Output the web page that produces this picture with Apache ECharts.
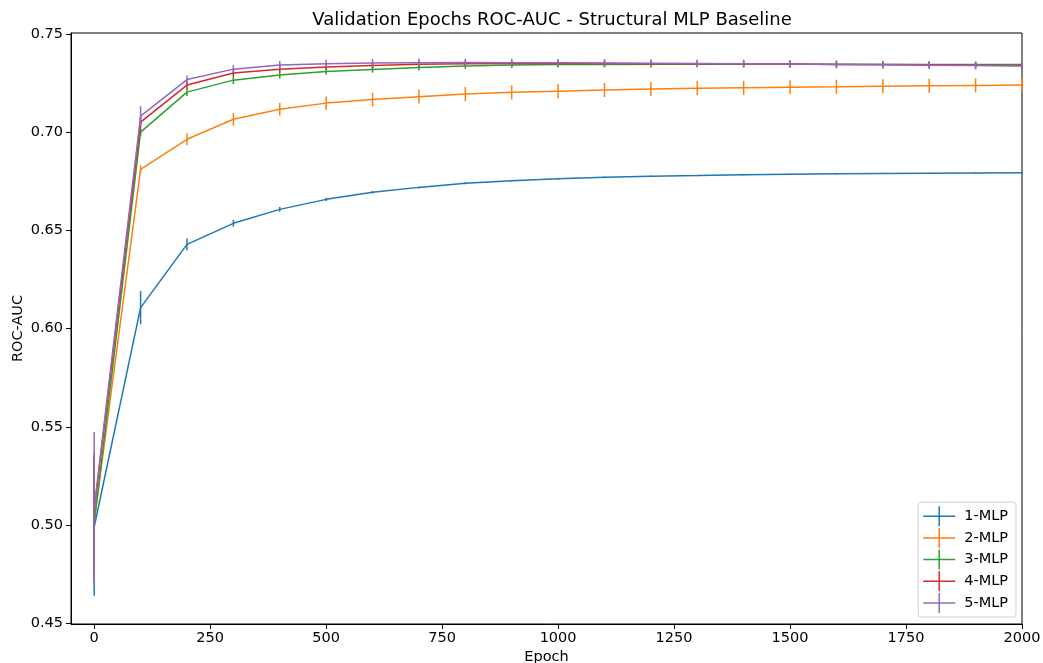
<!DOCTYPE html>
<html>
<head>
<meta charset="utf-8">
<script src="https://cdn.jsdelivr.net/npm/echarts@6/dist/echarts.min.js"></script>
<style>html,body{margin:0;padding:0;background:#fff}#c{width:1043px;height:663px}</style>
</head>
<body>
<div id="c"></div>
<script>
const epochs = [0,100,200,300,400,500,600,700,800,900,1000,1100,1200,1300,1400,1500,1600,1700,1800,1900,2000];
const seriesNames = ['1-MLP','2-MLP','3-MLP','4-MLP','5-MLP'];
const colors = ['#1f77b4','#ff7f0e','#2ca02c','#d62728','#9467bd'];

const mlp1 = [0.499,0.6107,0.6429,0.6536,0.6607,0.6658,0.6694,0.6719,0.6740,0.6753,0.6763,0.6770,0.6776,0.6779,0.6783,0.6786,0.6788,0.6790,0.6791,0.6792,0.6793];
const mlp1Err = [0.035,0.0085,0.003,0.0017,0.0012,0.0008,0.0006,0.0005,0.0005,0.0004,0.0004,0.0004,0.0003,0.0003,0.0003,0.0003,0.0003,0.0003,0.0003,0.0003,0.0003];
const mlp2 = [0.502,0.6811,0.6964,0.7066,0.7117,0.7148,0.7166,0.7181,0.7194,0.7203,0.7209,0.7215,0.7220,0.7224,0.7226,0.7229,0.7231,0.7234,0.7236,0.7238,0.7240];
const mlp2Err = [0.030,0.002,0.003,0.0032,0.0032,0.0034,0.0035,0.0035,0.0036,0.0036,0.0036,0.0036,0.0036,0.0036,0.0036,0.0036,0.0036,0.0036,0.0036,0.0036,0.0036];
const mlp3 = [0.501,0.7000,0.7204,0.7265,0.7291,0.7309,0.7319,0.7329,0.7337,0.7342,0.7344,0.7345,0.7346,0.7346,0.7346,0.7346,0.7346,0.7345,0.7345,0.7345,0.7344];
const mlp3Err = [0.030,0.002,0.002,0.002,0.0018,0.0016,0.0016,0.0015,0.0015,0.0015,0.0015,0.0015,0.0015,0.0015,0.0015,0.0015,0.0015,0.0015,0.0015,0.0015,0.0015];
const mlp4 = [0.5076,0.7051,0.7240,0.7301,0.7321,0.7332,0.7339,0.7346,0.7349,0.7350,0.7350,0.7350,0.7349,0.7349,0.7348,0.7347,0.7345,0.7344,0.7343,0.7341,0.7340];
const mlp4Err = [0.029,0.003,0.002,0.0018,0.0016,0.0015,0.0015,0.0015,0.0015,0.0015,0.0015,0.0015,0.0015,0.0015,0.0015,0.0015,0.0015,0.0015,0.0015,0.0015,0.0015];
const mlp5 = [0.5089,0.7082,0.7268,0.7321,0.7342,0.7349,0.7352,0.7354,0.7355,0.7354,0.7353,0.7352,0.7351,0.7350,0.7349,0.7347,0.7345,0.7343,0.7341,0.7339,0.7337];
const mlp5Err = [0.0385,0.005,0.002,0.002,0.002,0.002,0.002,0.002,0.002,0.002,0.002,0.002,0.002,0.002,0.002,0.002,0.002,0.002,0.002,0.002,0.002];

const xTicks = [0,250,500,750,1000,1250,1500,1750,2000];
const yTicks = [0.45,0.50,0.55,0.60,0.65,0.70,0.75];

const means = [mlp1,mlp2,mlp3,mlp4,mlp5];
const errs = [mlp1Err,mlp2Err,mlp3Err,mlp4Err,mlp5Err];

const FONT = 'DejaVu Sans';
const series = [];
seriesNames.forEach((name,i)=>{
  const color = colors[i];
  series.push({
    name, type:'line', data: epochs.map((e,k)=>[e, means[i][k]]),
    showSymbol:false, symbol:'none', lineStyle:{color, width:1.5}, itemStyle:{color},
    z: 2+i*2, animation:false
  });
  series.push({
    name, type:'custom', data: epochs.map((e,k)=>[e, means[i][k], errs[i][k]]),
    encode:{x:0,y:1}, z: 3+i*2, animation:false, itemStyle:{color},
    renderItem:function(params, api){
      const x = api.value(0), y = api.value(1), er = api.value(2);
      const p1 = api.coord([x, y-er]), p2 = api.coord([x, y+er]);
      return {type:'line', shape:{x1:p1[0],y1:p1[1],x2:p2[0],y2:p2[1]}, style:{stroke:color, lineWidth:1.5}};
    }
  });
});

const chart = echarts.init(document.getElementById('c'), null, {renderer:'canvas'});
chart.setOption({
  backgroundColor:'#fff',
  animation:false,
  title:{text:'Validation Epochs ROC-AUC - Structural MLP Baseline', left:547, textAlign:'center', top:6,
    textStyle:{fontFamily:FONT, fontSize:18, fontWeight:'normal', color:'#000'}},
  grid:{left:71, right:21, top:33, bottom:39, show:true, borderColor:'#000', borderWidth:1,
    backgroundColor:'transparent', outerBoundsMode:'none', containLabel:false},
  legend:{
    orient:'vertical', right:27, bottom:46,
    data: seriesNames.map(n=>({name:n, icon:'path://M0,9.25h32v1.5h-32z M15.25,0h1.5v20h-1.5z'})),
    itemWidth:32, itemHeight:20, itemGap:1.7,
    padding:[4,8,4,5],
    borderColor:'#d0d0d0', borderWidth:1, borderRadius:3, backgroundColor:'rgba(255,255,255,0.8)',
    textStyle:{fontFamily:FONT, fontSize:14.5, color:'#000', padding:[0,0,0,4]}
  },
  xAxis:{
    type:'value', min:-50, max:2000,
    name:'Epoch', nameLocation:'middle', nameGap:26, nameMoveOverlap:false,
    nameTextStyle:{fontFamily:FONT, fontSize:14.5, color:'#000'},
    axisLine:{show:true, onZero:false, lineStyle:{color:'#000', width:1}},
    axisTick:{show:true, inside:false, length:5, customValues:xTicks, lineStyle:{color:'#000'}},
    axisLabel:{customValues:xTicks, fontFamily:FONT, fontSize:14.5, color:'#000', margin:7, formatter:v=>String(v)},
    splitLine:{show:false}
  },
  yAxis:{
    type:'value', min:0.4496, max:0.7505,
    name:'ROC-AUC', nameLocation:'middle', nameGap:45, nameRotate:90, nameMoveOverlap:false,
    nameTextStyle:{fontFamily:FONT, fontSize:14.5, color:'#000'},
    axisLine:{show:true, onZero:false, lineStyle:{color:'#000', width:1}},
    axisTick:{show:true, inside:false, length:5, customValues:yTicks, lineStyle:{color:'#000'}},
    axisLabel:{customValues:yTicks, fontFamily:FONT, fontSize:14.5, color:'#000', margin:8, formatter:v=>v.toFixed(2)},
    splitLine:{show:false}
  },
  series
});
</script>
</body>
</html>
